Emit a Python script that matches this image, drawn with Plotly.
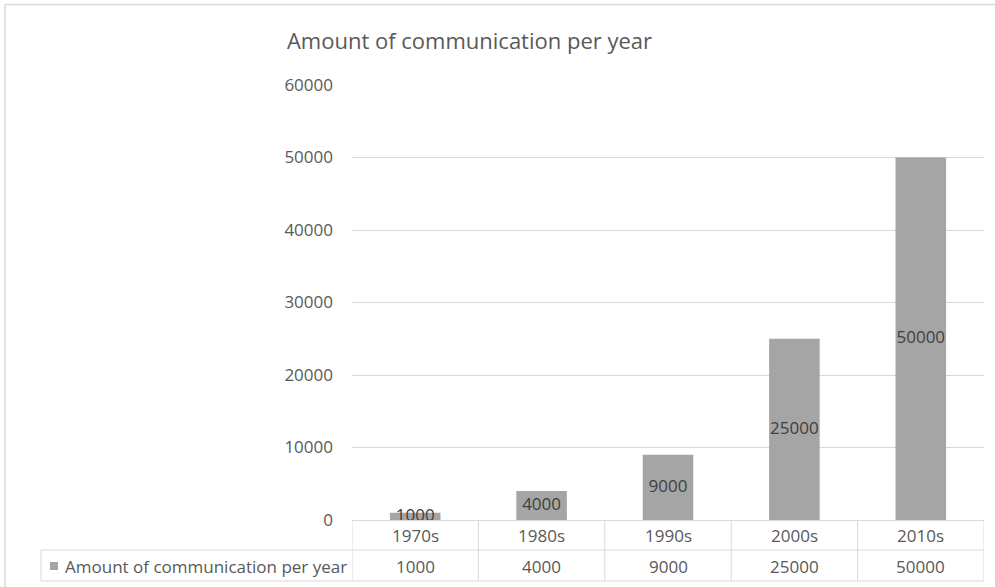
import plotly.graph_objects as go

categories = ["1970s", "1980s", "1990s", "2000s", "2010s"]
values = [1000, 4000, 9000, 25000, 50000]
series_name = "Amount of communication per year"
title_text = "Amount of communication per year"
y_ticks = [0, 10000, 20000, 30000, 40000, 50000, 60000]

W, H = 995, 587
PL, PR, PT, PB = 352, 984, 85, 520  # plot area in pixels

def px2x(px):
    return (px - PL) / (PR - PL)

def px2y(py):
    return (PB - py) / (PB - PT)

FONT = "Open Sans"
TXT = "#595959"
GRID = "#d9d9d9"
BAR = "#a5a5a5"
FS = 17

fig = go.Figure()
fig.add_trace(go.Bar(x=list(range(len(categories))), y=values, width=0.4,
                     marker=dict(color=BAR, line=dict(width=0)),
                     name=series_name, showlegend=False, hoverinfo="skip"))
fig.add_trace(go.Scatter(x=list(range(len(categories))), y=[v / 2 for v in values],
                         mode="text", text=[str(v) for v in values],
                         textposition="middle center",
                         textfont=dict(family=FONT, size=FS, color="#404040"),
                         showlegend=False, hoverinfo="skip"))

shapes = []
line = dict(color=GRID, width=1)
# outer chart border (top + left)
shapes.append(dict(type="line", xref="paper", yref="paper", x0=px2x(5), x1=px2x(1000),
                   y0=px2y(4.5), y1=px2y(4.5), line=dict(color=GRID, width=1.5)))
shapes.append(dict(type="line", xref="paper", yref="paper", x0=px2x(5), x1=px2x(5),
                   y0=px2y(4.5), y1=px2y(600), line=dict(color=GRID, width=1.5)))
# data table
n = len(categories)
for i in range(n + 1):
    shapes.append(dict(type="line", xref="x", yref="paper", x0=i - 0.5, x1=i - 0.5,
                       y0=px2y(520), y1=px2y(581), line=line))
shapes.append(dict(type="line", xref="paper", yref="paper", x0=px2x(41), x1=1,
                   y0=px2y(550), y1=px2y(550), line=line))
shapes.append(dict(type="line", xref="paper", yref="paper", x0=px2x(41), x1=1,
                   y0=px2y(581), y1=px2y(581), line=line))
shapes.append(dict(type="line", xref="paper", yref="paper", x0=px2x(41), x1=px2x(41),
                   y0=px2y(550), y1=px2y(581), line=line))
# legend key
shapes.append(dict(type="rect", xref="paper", yref="paper", x0=px2x(50), x1=px2x(58),
                   y0=px2y(562), y1=px2y(570), fillcolor=BAR, line=dict(width=0)))

annotations = []
for i, c in enumerate(categories):
    annotations.append(dict(x=i, xref="x", y=px2y(535), yref="paper", text=c,
                            showarrow=False, font=dict(family=FONT, size=FS, color=TXT),
                            xanchor="center", yanchor="middle"))
    annotations.append(dict(x=i, xref="x", y=px2y(566), yref="paper", text=str(values[i]),
                            showarrow=False, font=dict(family=FONT, size=FS, color=TXT),
                            xanchor="center", yanchor="middle"))
annotations.append(dict(x=px2x(63), xref="paper", y=px2y(566), yref="paper", text=series_name,
                        showarrow=False, font=dict(family=FONT, size=FS, color=TXT),
                        xanchor="left", yanchor="middle"))

fig.update_layout(
    width=W, height=H,
    margin=dict(l=PL, r=W - PR, t=PT, b=H - PB, pad=0),
    paper_bgcolor="white", plot_bgcolor="white",
    title=dict(text=title_text, x=469.5 / W, xanchor="center", xref="container",
               y=1 - 41 / H, yanchor="middle", yref="container",
               font=dict(family=FONT, size=22, color=TXT)),
    xaxis=dict(range=[-0.5, n - 0.5], showticklabels=False, showgrid=False,
               zeroline=False, showline=False, fixedrange=True),
    yaxis=dict(range=[0, 60000], tickvals=y_ticks, ticktext=[str(t) for t in y_ticks],
               showgrid=True, gridcolor=GRID, gridwidth=1, zeroline=True,
               zerolinecolor=GRID, zerolinewidth=1, showline=False,
               tickfont=dict(family=FONT, size=FS, color=TXT), ticklabelstandoff=18,
               fixedrange=True),
    shapes=shapes, annotations=annotations, showlegend=False,
)

fig.write_html("out.html")
